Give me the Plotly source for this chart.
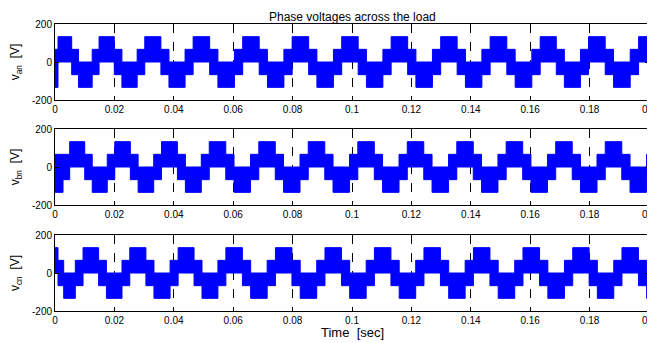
import plotly.graph_objects as go
from plotly.subplots import make_subplots

# ---- data ----
phases = ["an", "bn", "cn"]
# times (s) at which the upper envelope steps up to +133 V (start of each positive block)
peak_starts_an = [0.00101, 0.01483, 0.03023, 0.04651, 0.06320, 0.07985, 0.09653, 0.11318,
                  0.12986, 0.14651, 0.16336, 0.17964, 0.19649, 0.21318]
peak_starts_bn = [-0.01055, 0.00495, 0.02012, 0.03586, 0.05194, 0.06862, 0.08527, 0.10196,
                  0.11861, 0.13529, 0.15191, 0.16859, 0.18527, 0.20196]
peak_starts_cn = [-0.00617, 0.00944, 0.02518, 0.04146, 0.05753, 0.07422, 0.09090, 0.10755,
                  0.12423, 0.14088, 0.15757, 0.17432, 0.19090, 0.20752]
# start-up segments before the regular pattern: (end time, top, bottom)
lead_in_an = [(0.00101, 66.7, -133.3)]
lead_in_bn = [(0.00270, 66.7, -133.3)]
lead_in_cn = [(0.00101, 133.3, 0.0), (0.00293, 66.7, -66.7)]
# one fundamental cycle of the switching band: sector fractions and envelope levels
sector_widths_frac = [1/3, 1/6, 1/3, 1/6]
top_levels = [133.3, 66.7, 0.0, 66.7]
bottom_levels = [0.0, -66.7, -133.3, -66.7]
t_end = 0.2

x_ticks = [0, 0.02, 0.04, 0.06, 0.08, 0.1, 0.12, 0.14, 0.16, 0.18, 0.2]
x_tick_text = ["0", "0.02", "0.04", "0.06", "0.08", "0.1", "0.12", "0.14", "0.16", "0.18", "0.2"]
y_ticks = [-200, 0, 200]
y_tick_text = ["-200", "0", "200"]
title_text = "Phase voltages across the load"
xlabel_text = "Time  [sec]"


def band(peaks, lead):
    segs = []  # (start, top, bottom)
    for k in range(len(peaks) - 1):
        s, per = peaks[k], peaks[k + 1] - peaks[k]
        cur = s
        for w, u, l in zip(sector_widths_frac, top_levels, bottom_levels):
            segs.append((cur, u, l))
            cur += w * per
    lead_end = lead[-1][0]
    out = []
    prev = 0.0
    for e, u, l in lead:
        out.append((prev, u, l))
        prev = e
    for i, (s, u, l) in enumerate(segs):
        nxt = segs[i + 1][0] if i + 1 < len(segs) else peaks[-1]
        if nxt <= lead_end or s >= t_end:
            continue
        out.append((max(s, lead_end), u, l))
    t = [o[0] for o in out] + [t_end]
    up = [o[1] for o in out] + [out[-1][1]]
    lo = [o[2] for o in out] + [out[-1][2]]
    return t, up, lo


fig = make_subplots(rows=3, cols=1, shared_xaxes=False, vertical_spacing=0.1)
BLUE = "rgb(0,0,255)"
for i, (pk, ld) in enumerate([(peak_starts_an, lead_in_an), (peak_starts_bn, lead_in_bn),
                              (peak_starts_cn, lead_in_cn)]):
    t, u, l = band(pk, ld)
    fig.add_trace(go.Scatter(x=t, y=u, mode="lines", line=dict(color=BLUE, width=1, shape="hv"),
                             showlegend=False, hoverinfo="skip"), row=i + 1, col=1)
    fig.add_trace(go.Scatter(x=t, y=l, mode="lines", line=dict(color=BLUE, width=1, shape="hv"),
                             fill="tonexty", fillcolor=BLUE, showlegend=False, hoverinfo="skip"),
                  row=i + 1, col=1)

# page is offset by the browser's default 8px body margin
OFF = 8
W, H = 655 - OFF, 343 - OFF
left, right = 55 - OFF, 649 - OFF
panels_px = [(24 - OFF, 100 - OFF), (129 - OFF, 205 - OFF), (235 - OFF, 311 - OFF)]
top_m = panels_px[0][0]
bot_m = H - panels_px[-1][1]
ph_ = H - top_m - bot_m
FONT = "Liberation Sans, Arial, sans-serif"
font_tick = dict(family=FONT, size=10, color="black")

for i, (pt, pb) in enumerate(panels_px):
    dom = [(H - bot_m - pb) / ph_, (H - bot_m - pt) / ph_]
    xa = "xaxis" if i == 0 else f"xaxis{i+1}"
    ya = "yaxis" if i == 0 else f"yaxis{i+1}"
    fig.layout[xa].update(range=[0, 0.2], tickvals=x_ticks, ticktext=x_tick_text, automargin=False,
                          ticklabeloverflow="allow",
                          showgrid=True, gridcolor="black", griddash="dash", gridwidth=1,
                          showline=True, linecolor="black", linewidth=1, mirror="ticks",
                          ticks="inside", ticklen=4, tickcolor="black", tickfont=font_tick,
                          zeroline=False)
    fig.layout[ya].update(range=[-200, 200], tickvals=y_ticks, ticktext=y_tick_text, domain=dom,
                          automargin=False, ticklabeloverflow="allow",
                          showgrid=False, showline=True, linecolor="black", linewidth=1,
                          mirror="ticks", ticks="inside", ticklen=4, tickcolor="black",
                          tickfont=font_tick, zeroline=False,
                          title=dict(text=f"v<sub>{phases[i]}</sub>  [V]",
                                     font=dict(family=FONT, size=12, color="black"),
                                     standoff=12))

fig.add_annotation(text=title_text, x=0.5, y=1.0, xref="paper", yref="paper", yanchor="top",
                   yshift=top_m, showarrow=False, font=dict(family=FONT, size=12, color="black"))
fig.add_annotation(text=xlabel_text, x=0.5, y=0.0, xref="paper", yref="paper", yanchor="middle",
                   yshift=-21, showarrow=False, font=dict(family=FONT, size=13, color="black"))

fig.update_layout(width=W, height=H, margin=dict(l=left, r=W - right, t=top_m, b=bot_m),
                  plot_bgcolor="white", paper_bgcolor="white")
fig.write_html("out.html")
